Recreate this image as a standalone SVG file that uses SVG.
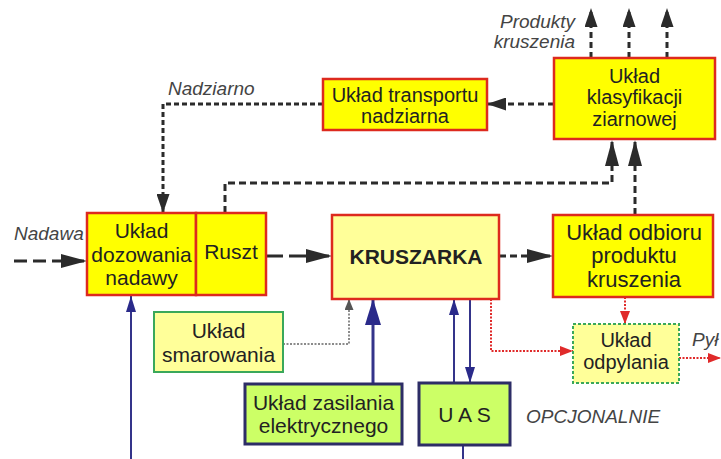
<svg xmlns="http://www.w3.org/2000/svg" width="721" height="459" viewBox="0 0 721 459">
<style>
  .t { font-family: "Liberation Sans", Arial, sans-serif; fill: #222; text-anchor: middle; }
  .lbl { font-family: "Liberation Sans", Arial, sans-serif; font-style: italic; fill: #444; font-size: 19px; }
  .yb { fill: #ffff00; stroke: #dd2a1e; stroke-width: 2.5; }
  .lyb { fill: #ffff99; stroke: #dd2a1e; stroke-width: 2.5; }
  .gb { fill: #ffff99; stroke: #3aa85a; stroke-width: 2; }
  .gdb { fill: #ffff99; stroke: #3aa85a; stroke-width: 2; stroke-dasharray: 3 2; }
  .nb { fill: #ccff66; stroke: #2d2d66; stroke-width: 3; }
  .dk { fill: none; stroke: #2b2b2b; stroke-width: 3; }
  .navy { fill: none; stroke: #34348a; }
  .red { fill: none; stroke: #e02a2a; stroke-width: 2; stroke-dasharray: 2 1.5; }
</style>
<defs>
  <marker id="ahL" markerUnits="userSpaceOnUse" markerWidth="26" markerHeight="14" refX="26" refY="7" orient="auto"><path d="M0,0 L26,7 L0,14 z" fill="#2b2b2b"/></marker>
  <marker id="ahS" markerUnits="userSpaceOnUse" markerWidth="19" markerHeight="13" refX="19" refY="6.5" orient="auto"><path d="M0,0 L19,6.5 L0,13 z" fill="#2b2b2b"/></marker>
  <marker id="ahG" markerUnits="userSpaceOnUse" markerWidth="11" markerHeight="9" refX="11" refY="4.5" orient="auto"><path d="M0,0 L11,4.5 L0,9 z" fill="#555"/></marker>
  <marker id="ahNB" markerUnits="userSpaceOnUse" markerWidth="26" markerHeight="16" refX="26" refY="8" orient="auto"><path d="M0,0 L26,8 L0,16 z" fill="#2a2a8a"/></marker>
  <marker id="ahNS" markerUnits="userSpaceOnUse" markerWidth="16" markerHeight="10" refX="16" refY="5" orient="auto"><path d="M0,0 L16,5 L0,10 z" fill="#2a2a8a"/></marker>
  <marker id="ahR" markerUnits="userSpaceOnUse" markerWidth="13" markerHeight="10" refX="13" refY="5" orient="auto"><path d="M0,0 L13,5 L0,10 z" fill="#e02a2a"/></marker>
</defs>
<rect width="721" height="459" fill="#ffffff"/>

<g id="connectors">
  <line class="dk" x1="14" y1="261" x2="87" y2="261" stroke-dasharray="13 6" marker-end="url(#ahL)"/>
  <line class="dk" x1="266" y1="256" x2="332" y2="256" stroke-dasharray="17 6" marker-end="url(#ahL)"/>
  <line class="dk" x1="499" y1="256" x2="553" y2="256" stroke-dasharray="7 4" marker-end="url(#ahL)"/>
  <line class="dk" x1="635" y1="215" x2="635" y2="140" stroke-dasharray="7 4" marker-end="url(#ahL)"/>
  <polyline class="dk" points="225,213 225,183 612,183 612,140" stroke-dasharray="7 4" marker-end="url(#ahL)"/>
  <line class="dk" x1="554" y1="104" x2="487" y2="104" stroke-dasharray="6 4" stroke-width="2.5" marker-end="url(#ahS)"/>
  <polyline class="dk" points="323,104 163,104 163,213" stroke-dasharray="5 3" stroke-width="2.5" marker-end="url(#ahS)"/>
  <line class="dk" x1="591" y1="58" x2="591" y2="8" stroke-dasharray="6 4" stroke-width="2.5" marker-end="url(#ahS)"/>
  <line class="dk" x1="629" y1="58" x2="629" y2="8" stroke-dasharray="6 4" stroke-width="2.5" marker-end="url(#ahS)"/>
  <line class="dk" x1="667" y1="58" x2="667" y2="8" stroke-dasharray="6 4" stroke-width="2.5" marker-end="url(#ahS)"/>
  <polyline points="283,344 349,344 349,299" fill="none" stroke="#666" stroke-width="1.5" stroke-dasharray="2 1.5" marker-end="url(#ahG)"/>
  <line class="navy" x1="373" y1="384" x2="373" y2="299" stroke-width="3" marker-end="url(#ahNB)"/>
  <line class="navy" x1="454" y1="383" x2="454" y2="299" stroke-width="2" marker-end="url(#ahNS)"/>
  <line class="navy" x1="470" y1="299" x2="470" y2="383" stroke-width="2" marker-end="url(#ahNS)"/>
  <line class="navy" x1="463" y1="445" x2="463" y2="459" stroke-width="2"/>
  <line class="navy" x1="131" y1="459" x2="131" y2="296" stroke-width="2" marker-end="url(#ahNS)"/>
  <polyline class="red" points="491,299 491,351 573,351" marker-end="url(#ahR)"/>
  <line class="red" x1="625" y1="297" x2="625" y2="324" marker-end="url(#ahR)"/>
  <line class="red" x1="679" y1="358" x2="721" y2="358" marker-end="url(#ahR)"/>
</g>

<g id="dozowanie">
  <rect class="yb" x="87" y="213" width="109" height="82"/>
  <text class="t" font-size="21" x="141.5" y="238">Układ</text>
  <text class="t" font-size="21" x="141.5" y="262">dozowania</text>
  <text class="t" font-size="21" x="141.5" y="285">nadawy</text>
</g>
<g id="ruszt">
  <rect class="yb" x="196" y="213" width="70" height="82"/>
  <text class="t" font-size="21" x="231" y="259">Ruszt</text>
</g>
<g id="kruszarka">
  <rect class="lyb" x="332" y="215" width="167" height="84"/>
  <text class="t" font-size="21" font-weight="bold" x="416" y="264">KRUSZARKA</text>
</g>
<g id="odbior">
  <rect class="yb" x="553" y="215" width="160" height="82"/>
  <text class="t" font-size="22" x="634" y="240">Układ odbioru</text>
  <text class="t" font-size="22" x="634" y="263">produktu</text>
  <text class="t" font-size="22" x="634" y="287">kruszenia</text>
</g>
<g id="klasyfikacja">
  <rect class="yb" x="554" y="58" width="161" height="81"/>
  <text class="t" font-size="20" x="634.5" y="83">Układ</text>
  <text class="t" font-size="20" x="634.5" y="104">klasyfikacji</text>
  <text class="t" font-size="20" x="634.5" y="126">ziarnowej</text>
</g>
<g id="transport">
  <rect class="yb" x="323" y="79" width="164" height="51"/>
  <text class="t" font-size="20" x="405" y="102">Układ transportu</text>
  <text class="t" font-size="20" x="405" y="123">nadziarna</text>
</g>
<g id="smarowanie">
  <rect class="gb" x="154" y="312" width="129" height="60"/>
  <text class="t" font-size="21" x="218.5" y="338">Układ</text>
  <text class="t" font-size="21" x="218.5" y="362">smarowania</text>
</g>
<g id="zasilanie">
  <rect class="nb" x="245" y="384" width="157" height="60"/>
  <text class="t" font-size="21" x="323.5" y="410">Układ zasilania</text>
  <text class="t" font-size="21" x="323.5" y="433">elektrycznego</text>
</g>
<g id="uas">
  <rect class="nb" x="419" y="383" width="91" height="62"/>
  <text class="t" font-size="21" x="464.5" y="422">U A S</text>
</g>
<g id="odpylanie">
  <rect class="gdb" x="573" y="324" width="106" height="59"/>
  <text class="t" font-size="20" x="626" y="347">Układ</text>
  <text class="t" font-size="20" x="626" y="369">odpylania</text>
</g>

<g id="labels">
  <text class="lbl" x="14" y="240">Nadawa</text>
  <text class="lbl" x="168" y="95">Nadziarno</text>
  <text class="lbl" x="575" y="28" text-anchor="end">Produkty</text>
  <text class="lbl" x="575" y="48" text-anchor="end">kruszenia</text>
  <text class="lbl" x="526" y="423">OPCJONALNIE</text>
  <text class="lbl" x="692" y="346">Pył</text>
</g>
</svg>
